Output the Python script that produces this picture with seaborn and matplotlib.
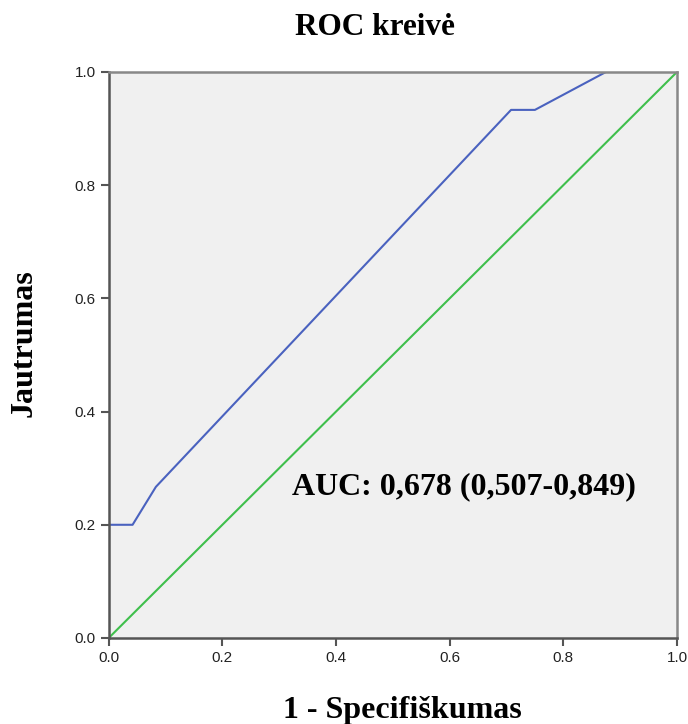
import pandas as pd
import matplotlib
matplotlib.use('Agg')
import matplotlib.pyplot as plt
import seaborn as sns

fpr = [0.0, 0.0, 0.042, 0.083, 0.708, 0.75, 0.875, 1.0]
tpr = [0.0, 0.2, 0.2, 0.267, 0.933, 0.933, 1.0, 1.0]
ref = [0.0, 1.0]
ticks = [0.0, 0.2, 0.4, 0.6, 0.8, 1.0]
tick_labels = ['0.0', '0.2', '0.4', '0.6', '0.8', '1.0']

sns.set_style('ticks')
plt.rcParams['font.family'] = ['Liberation Sans', 'DejaVu Sans']
roc = pd.DataFrame({'fpr': fpr, 'tpr': tpr})
diag = pd.DataFrame({'x': ref, 'y': ref})

fig = plt.figure(figsize=(6.88, 7.24), dpi=100)
ax = fig.add_axes([0.158, 0.1188, 0.826, 0.7818])
ax.set_facecolor('#f0f0f0')

sns.lineplot(data=diag, x='x', y='y', color='#3fbf4c', linewidth=1.5, ax=ax)
sns.lineplot(data=roc, x='fpr', y='tpr', sort=False, estimator=None,
             color='#4a62bf', linewidth=1.5, ax=ax)

ax.set_xlim(0, 1)
ax.set_ylim(0, 1)
ax.set_xticks(ticks)
ax.set_xticklabels(tick_labels)
ax.set_yticks(ticks)
ax.set_yticklabels(tick_labels)
ax.set_xlabel('')
ax.set_ylabel('')
ax.tick_params(direction='out', length=6, width=1.5, color='#555555',
               labelsize=11, labelcolor='#222222')
for s in ['left', 'bottom']:
    ax.spines[s].set_color('#555555')
    ax.spines[s].set_linewidth(1.8)
for s in ['top', 'right']:
    ax.spines[s].set_visible(True)
    ax.spines[s].set_color('#888888')
    ax.spines[s].set_linewidth(1.8)

serif = {'family': 'Liberation Serif', 'weight': 'bold', 'color': 'black'}
fig.text(0.545, 0.9517, 'ROC kreivė', ha='center', va='baseline', fontsize=22.5, **serif)
fig.text(0.5847, 0.0083, '1 - Specifiškumas', ha='center', va='baseline', fontsize=23, **serif)
fig.text(0.035, 0.526, 'Jautrumas', ha='center', va='center', rotation=90, fontsize=23, **serif)
ax.text(0.322, 0.267, 'AUC: 0,678 (0,507-0,849)', fontsize=23,
        ha='left', va='center', transform=ax.transAxes, **serif)

fig.savefig('out.png', dpi=100)
